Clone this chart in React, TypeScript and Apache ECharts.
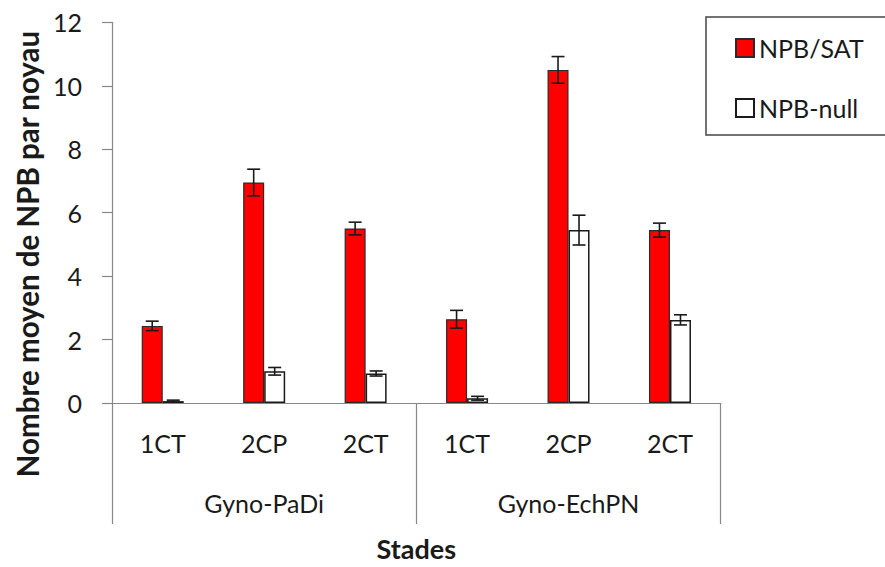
import React, { useEffect, useRef } from "react";
import * as echarts from "echarts";

const stages = ["1CT", "2CP", "2CT", "1CT", "2CP", "2CT"];
const groups = ["Gyno-PaDi", "Gyno-EchPN"];
const satValues = [2.43, 6.95, 5.5, 2.64, 10.5, 5.45];
const satErrors = [0.15, 0.42, 0.2, 0.28, 0.42, 0.22];
const nullValues = [0.06, 1.0, 0.93, 0.15, 5.45, 2.62];
const nullErrors = [0.03, 0.12, 0.08, 0.06, 0.47, 0.16];
const seriesNames = ["NPB/SAT", "NPB-null"];
const yTitle = "Nombre moyen de NPB par noyau";
const xTitle = "Stades";

const FONT = "Lato, 'Open Sans', sans-serif";
const BAR_W = 21;

function errorSeries(values: number[], errors: number[], offset: number) {
  return {
    type: "custom",
    xAxisIndex: 0,
    yAxisIndex: 0,
    silent: true,
    z: 5,
    data: values.map((v, i) => [i, v, errors[i]]),
    encode: { x: 0, y: 1 },
    renderItem: (_p: any, api: any) => {
      const i = api.value(0);
      const v = api.value(1);
      const e = api.value(2);
      const top = api.coord([i, v + e]);
      const bot = api.coord([i, Math.max(0, v - e)]);
      const x = top[0] + offset;
      const cap = 6.5;
      const style = { stroke: "#1a1a1a", lineWidth: 1.6 };
      return {
        type: "group",
        children: [
          { type: "line", shape: { x1: x, y1: top[1], x2: x, y2: bot[1] }, style },
          { type: "line", shape: { x1: x - cap, y1: top[1], x2: x + cap, y2: top[1] }, style },
          { type: "line", shape: { x1: x - cap, y1: bot[1], x2: x + cap, y2: bot[1] }, style },
        ],
      };
    },
  };
}

export default function App() {
  const ref = useRef<HTMLDivElement>(null);
  useEffect(() => {
    if (!ref.current) return;
    const chart = echarts.init(ref.current, null, { renderer: "svg" });
    chart.setOption({
      animation: false,
      backgroundColor: "#ffffff",
      textStyle: { fontFamily: FONT },
      grid: { left: 112, top: 22.3, right: 164.3, bottom: 158, containLabel: false },
      graphic: [
        {
          type: "rect",
          z: 0,
          shape: { x: 706, y: 17, width: 200, height: 118 },
          style: { fill: "#ffffff", stroke: "#444444", lineWidth: 1.5 },
        },
        {
          type: "text",
          z: 10,
          x: 27,
          y: 254,
          rotation: Math.PI / 2,
          style: {
            text: yTitle,
            font: `bold 29.5px ${FONT}`,
            fill: "#1a1a1a",
            textAlign: "center",
            textVerticalAlign: "middle",
          },
        },
      ],
      legend: {
        data: seriesNames,
        orient: "vertical",
        left: 730,
        top: 30,
        itemWidth: 18,
        itemHeight: 18,
        itemGap: 34,
        z: 10,
        selectedMode: false,
        icon: "rect",
        textStyle: { fontSize: 25, lineHeight: 26, color: "#1a1a1a", fontFamily: FONT },
      },
      xAxis: [
        {
          type: "category",
          data: stages,
          position: "bottom",
          axisLine: { show: true, lineStyle: { color: "#888888", width: 1.2 } },
          axisTick: { show: false },
          axisLabel: { fontSize: 25, lineHeight: 25, color: "#1a1a1a", margin: 27, interval: 0, fontFamily: FONT },
          name: xTitle,
          nameLocation: "middle",
          nameGap: 132,
          nameTextStyle: { fontSize: 27, fontWeight: "bold", color: "#1a1a1a", fontFamily: FONT },
        },
        {
          type: "category",
          data: groups,
          position: "bottom",
          axisLine: { show: false },
          axisTick: { show: true, length: 121, lineStyle: { color: "#888888", width: 1.2 } },
          axisLabel: { fontSize: 25, lineHeight: 25, color: "#1a1a1a", margin: 87, interval: 0, fontFamily: FONT },
        },
      ],
      yAxis: {
        type: "value",
        min: 0,
        max: 12,
        interval: 2,
        splitLine: { show: false },
        axisLine: { show: true, lineStyle: { color: "#888888", width: 1.2 } },
        axisTick: { show: true, length: 10, lineStyle: { color: "#888888", width: 1.2 } },
        axisLabel: { fontSize: 25, color: "#1a1a1a", margin: 30, fontFamily: FONT },
      },
      series: [
        {
          name: seriesNames[0],
          type: "bar",
          barWidth: BAR_W,
          barGap: "0%",
          data: satValues,
          itemStyle: { color: "#ff0000", borderColor: "#2a2a2a", borderWidth: 1.2 },
        },
        {
          name: seriesNames[1],
          type: "bar",
          barWidth: BAR_W,
          barGap: "0%",
          data: nullValues,
          itemStyle: { color: "#ffffff", borderColor: "#1a1a1a", borderWidth: 1.5 },
        },
        errorSeries(satValues, satErrors, -BAR_W / 2),
        errorSeries(nullValues, nullErrors, BAR_W / 2),
      ],
    });
    return () => chart.dispose();
  }, []);
  return (
    <div
      ref={ref}
      style={{ position: "absolute", left: 0, top: 0, width: 885, height: 567 }}
    />
  );
}
